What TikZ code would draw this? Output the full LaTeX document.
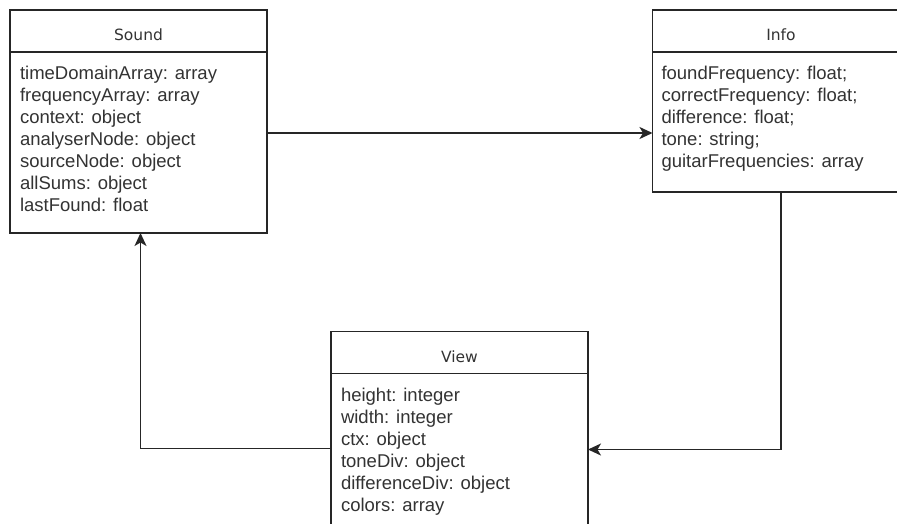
\documentclass[tikz,border=0pt]{standalone}
\usepackage{fontspec}
\setmainfont{Liberation Sans}
\newfontfamily\headfont{DejaVu Sans}
\usepackage{xcolor}
\usetikzlibrary{arrows.meta, positioning}

\definecolor{linegray}{HTML}{262626}
\definecolor{textgray}{HTML}{333333}

\tikzset{
    classhead/.style={draw=linegray, line width=1.6pt, outer sep=0pt, inner sep=0pt,
        minimum width=257pt, minimum height=42pt, text height=19pt, text depth=0pt,
        font=\headfont\fontsize{15.5}{18}\selectfont, text=textgray},
    classbody/.style={draw=linegray, line width=1.6pt, outer sep=0pt, inner sep=0pt,
        minimum width=257pt},
    members/.style={align=left, inner sep=0pt, outer sep=0pt,
        font=\fontsize{18.5}{22}\selectfont, text=textgray},
    link/.style={->, line width=1.6pt, draw=linegray},
}

\begin{document}
\begin{tikzpicture}[x=1pt, y=-1pt, >={Stealth[length=13pt, width=12pt, inset=3.5pt]}]
    \useasboundingbox (0,0) rectangle (897,523);
    \clip (0,0) rectangle (897,523);
    \fill[white] (0,0) rectangle (897,523);

    % classes
    \node[classhead] (soundhead) at (138.5,31) {Sound};
    \node[classbody, minimum height=181pt, below=0pt of soundhead] (soundbody) {};
    \node[members, below right=14.5pt and 10pt of soundbody.north west] (soundattrs) {
        timeDomainArray: array\\ frequencyArray: array\\ context: object\\
        analyserNode: object\\ sourceNode: object\\ allSums: object\\ lastFound: float};

    \node[classhead] (infohead) at (781,31) {Info};
    \node[classbody, minimum height=140pt, below=0pt of infohead] (infobody) {};
    \node[members, below right=14.5pt and 9pt of infobody.north west] (infoattrs) {
        foundFrequency: float;\\ correctFrequency: float;\\ difference: float;\\
        tone: string;\\ guitarFrequencies: array};

    \node[classhead] (viewhead) at (459.5,352.5) {View};
    \node[classbody, minimum height=181pt, below=0pt of viewhead] (viewbody) {};
    \node[members, below right=14.5pt and 10pt of viewbody.north west] (viewattrs) {
        height: integer\\ width: integer\\ ctx: object\\ toneDiv: object\\
        differenceDiv: object\\ colors: array};

    % associations
    \draw[link] ([yshift=9.5pt]soundbody.east) -- ([yshift=9.5pt]soundbody.east -| infobody.west);
    \draw[link] (infobody.south) |- ([yshift=14.5pt]viewbody.east);
    \draw[link] ([yshift=15.5pt]viewbody.west) -| ([xshift=2pt]soundbody.south);
\end{tikzpicture}
\end{document}
